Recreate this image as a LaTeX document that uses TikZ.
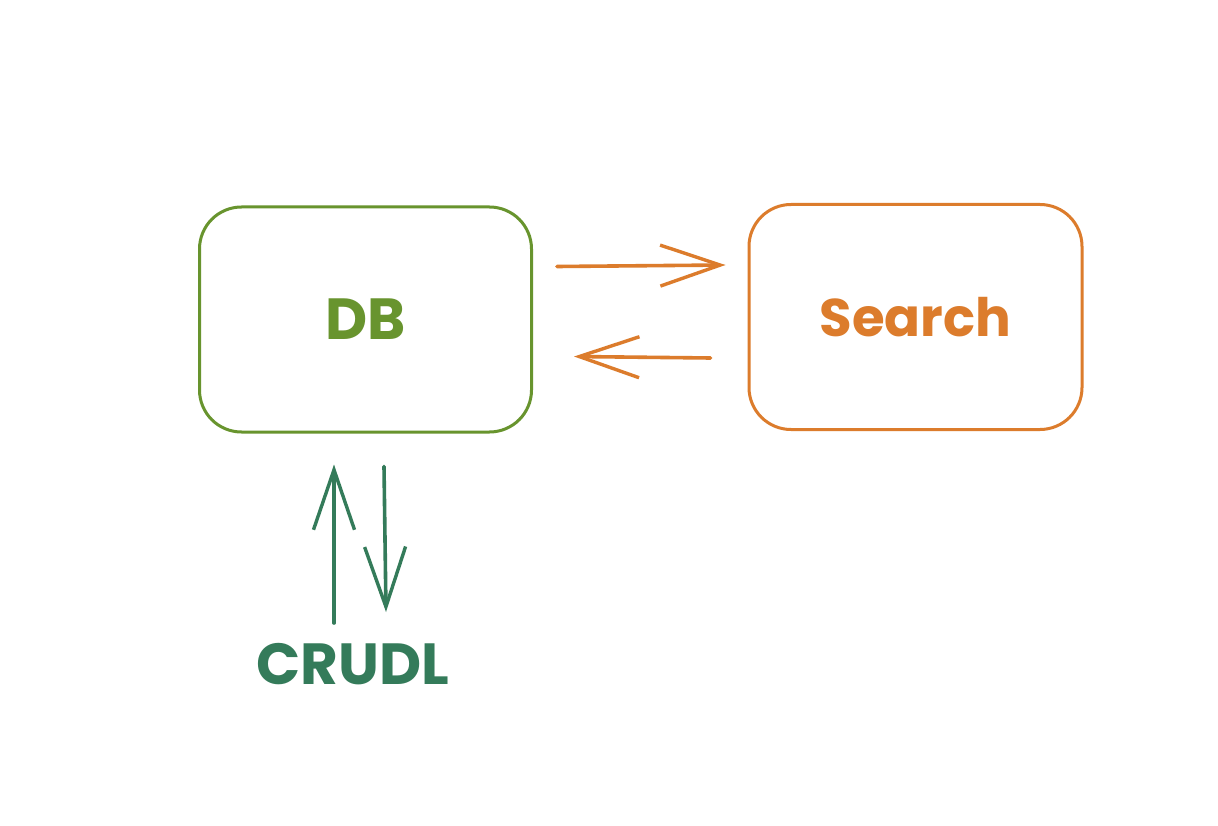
\documentclass[tikz,border=0pt]{standalone}
\usepackage{fontspec}
\setmainfont{Poppins}
\usetikzlibrary{arrows.meta}
\definecolor{dbgreen}{RGB}{104,148,46}
\definecolor{searchorange}{RGB}{220,124,44}
\definecolor{crudlgreen}{RGB}{52,123,90}
\tikzset{x=1pt,y=-1pt,
    store box/.style={draw,line width=3pt,rounded corners=42pt,
        minimum width=332pt,minimum height=225pt,
        font=\fontsize{58}{62}\selectfont\bfseries},
    barb arrow/.style={line width=3.6pt,line cap=round,
        -{Straight Barb[length=60pt,width=41pt,line width=3.4pt]}},
    }

\begin{document}
\begin{tikzpicture}
	\useasboundingbox[fill=white] (0,0) rectangle (1218,826);
	\node[store box,dbgreen] (db) at (365.5,319.5) {DB};
	\node[store box,searchorange,minimum width=333pt,font=\fontsize{53}{57}\selectfont\bfseries]
		(search) at (915.5,317) {Search};
	\node[crudlgreen,inner sep=0pt,font=\fontsize{58}{62}\selectfont\bfseries]
		(crudl) at (353,664) {CRUDL};
	% sync between the stores
	\draw[barb arrow,searchorange] ([xshift=24pt,yshift=53pt]db.east)
		-- ([xshift=-22pt,yshift=52pt]search.west);
	\draw[barb arrow,searchorange] ([xshift=-37pt,yshift=-41pt]search.west)
		-- ([xshift=41pt,yshift=-37pt]db.east);
	% client calls
	\draw[barb arrow,crudlgreen] ([xshift=-19pt,yshift=20pt]crudl.north)
		-- ([xshift=-31.5pt,yshift=-31pt]db.south);
	\draw[barb arrow,crudlgreen] ([xshift=18.5pt,yshift=-33pt]db.south)
		-- ([xshift=33pt,yshift=31pt]crudl.north);
\end{tikzpicture}
\end{document}
